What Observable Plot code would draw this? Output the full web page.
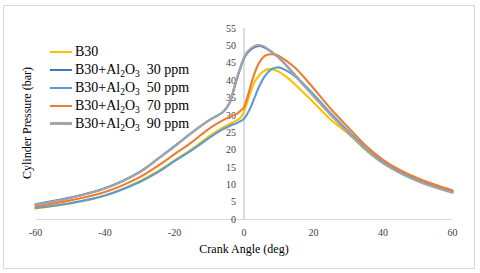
<!DOCTYPE html>
<html>
<head>
<meta charset="utf-8">
<script src="https://cdn.jsdelivr.net/npm/d3@7"></script>
<script src="https://cdn.jsdelivr.net/npm/@observablehq/plot@0.6"></script>
<style>
  html, body { margin: 0; padding: 0; background: #fff; }
  #wrap { position: relative; width: 480px; height: 273px; font-family: 'Liberation Serif', 'Times New Roman', serif; }
  #frame { position: absolute; left: 3px; top: 5px; width: 470px; height: 262px; border: 1px solid #d9d9d9; pointer-events: none; }
  #legend { position: absolute; left: 50px; top: 43px; font-size: 14px; color: #000; font-family: 'Liberation Serif', serif; }
  #legend .row { display: flex; align-items: center; height: 17.9px; white-space: pre; }
  #legend .sw { width: 22px; height: 2.2px; margin-right: 3px; }
  #legend sub { font-size: 9.5px; vertical-align: -3px; line-height: 0; }
  svg { position: absolute; left: 0; top: 0; }
  svg text { font-family: 'Liberation Serif', serif; }
</style>
</head>
<body>
<div id="wrap"><div id="frame"></div></div>
<script>
const angles = [-60,-50,-40,-30,-25,-20,-15,-10,-6,-4,-3,-2,-1,0,1,2,3,4,5,6,7,8,9,10,12,15,20,25,30,35,40,45,50,55,60];

const b30     = [3.2,4.6,6.9,11.0,13.8,17.0,20.3,24.0,26.5,27.6,28.1,28.6,29.3,31.0,34.0,37.0,39.5,41.0,42.2,42.9,43.3,43.3,43.0,42.6,41.2,38.6,33.7,28.7,24.7,20.0,16.2,13.4,11.2,9.5,8.0];
const ppm30   = [4.4,6.3,9.0,13.7,17.3,21.1,25.0,28.6,31.0,33.8,37.2,40.6,43.7,46.4,48.0,49.0,49.6,49.9,49.9,49.5,48.9,48.2,47.4,46.6,44.6,41.2,35.8,30.3,25.2,20.4,16.4,13.5,11.2,9.4,7.9];
const ppm50   = [3.3,4.7,6.9,10.8,13.5,16.8,20.0,23.5,26.0,27.0,27.4,27.8,28.3,29.0,30.5,32.5,35.0,37.5,39.6,41.3,42.5,43.3,43.7,43.8,43.0,41.0,36.0,30.5,25.4,20.5,16.5,13.6,11.3,9.5,7.9];
const ppm70   = [3.8,5.5,7.9,12.2,15.3,18.8,22.3,26.2,28.6,29.6,30.0,30.5,31.3,32.4,35.3,38.8,42.0,44.5,46.1,47.1,47.5,47.6,47.5,47.1,45.8,43.4,37.8,31.8,26.5,21.3,17.2,14.2,11.9,10.0,8.4];
const ppm90   = [4.3,6.2,8.9,13.6,17.3,21.0,25.0,28.6,31.0,34.0,37.5,41.0,44.0,46.7,48.3,49.3,49.9,50.2,50.1,49.7,49.0,48.3,47.5,46.6,44.5,41.0,35.5,30.0,25.0,20.2,16.2,13.3,11.0,9.2,7.7];

const seriesNames = ["B30", "B30+Al2O3 30 ppm", "B30+Al2O3 50 ppm", "B30+Al2O3 70 ppm", "B30+Al2O3 90 ppm"];
const seriesValues = [b30, ppm30, ppm50, ppm70, ppm90];
const seriesColors = ["#FFC000", "#4472C4", "#5B9BD5", "#ED7D31", "#A5A5A5"];

const xTicks = [-60, -40, -20, 0, 20, 40, 60];
const yTicks = [0, 5, 10, 15, 20, 25, 30, 35, 40, 45, 50, 55];
const xTitle = "Crank Angle (deg)";
const yTitle = "Cylinder Pressure (bar)";

const rows = [];
seriesNames.forEach((name, i) => {
  angles.forEach((a, j) => rows.push({series: name, angle: a, p: seriesValues[i][j]}));
});

const chart = Plot.plot({
  width: 480,
  height: 273,
  marginLeft: 35,
  marginRight: 28,
  marginTop: 28,
  marginBottom: 54,
  style: {fontFamily: "'Liberation Serif', serif", background: "transparent"},
  x: {domain: [-60, 60], axis: null},
  y: {domain: [0, 55], axis: null},
  color: {domain: seriesNames, range: seriesColors},
  marks: [
    Plot.ruleY([0], {stroke: "#d9d9d9", strokeWidth: 1.2}),
    Plot.ruleX([0], {y1: 0, y2: 55, stroke: "#c6c6c6", strokeWidth: 1.2}),
    Plot.axisX({ticks: xTicks, tickSize: 0, tickPadding: 9, fontSize: 10, color: "#404040", label: null, tickFormat: d => String(d)}),
    Plot.text(yTicks, {x: 0, y: d => d, text: d => String(d), dx: -8, textAnchor: "end", fontSize: 10, fill: "#404040"}),
    Plot.line(rows, {x: "angle", y: "p", stroke: "series", strokeWidth: 2.1, curve: "catmull-rom"}),
    Plot.text([xTitle], {frameAnchor: "bottom", dy: 33, text: d => d, fontSize: 12, fill: "#000"}),
    Plot.text([yTitle], {frameAnchor: "left", textAnchor: "middle", dx: -8, dy: -1, rotate: -90, text: d => d, fontSize: 12, fill: "#000"})
  ]
});

const wrap = document.getElementById("wrap");
wrap.insertBefore(chart, wrap.firstChild);

const legend = document.createElement("div");
legend.id = "legend";
seriesNames.forEach((name, i) => {
  const row = document.createElement("div");
  row.className = "row";
  const sw = document.createElement("span");
  sw.className = "sw";
  sw.style.background = seriesColors[i];
  const label = document.createElement("span");
  label.innerHTML = name.replace("Al2O3 ", "Al<sub>2</sub>O<sub>3</sub>  ");
  row.appendChild(sw);
  row.appendChild(label);
  legend.appendChild(row);
});
wrap.appendChild(legend);
</script>
</body>
</html>
